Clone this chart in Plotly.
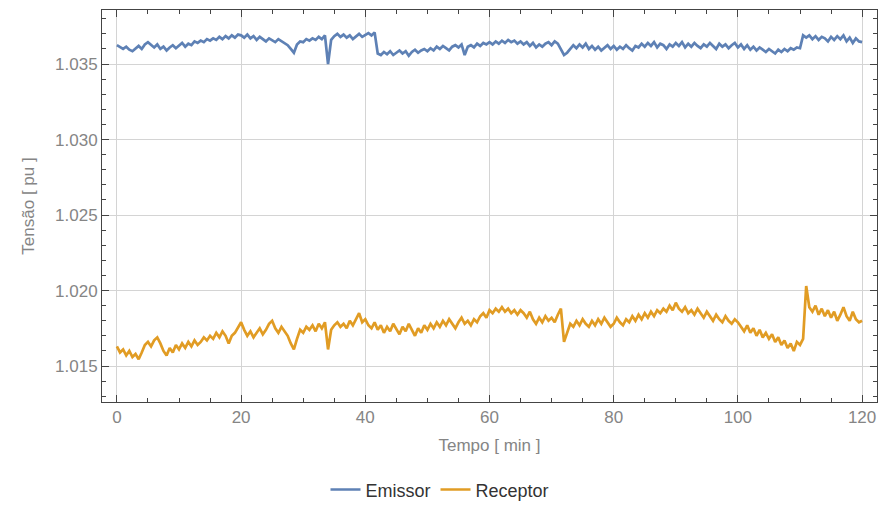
import plotly.graph_objects as go

# time axis, minutes (0.5-min sampling)
tempo = [i * 0.5 for i in range(241)]

emissor = [
    1.03625, 1.03610, 1.03600, 1.03615, 1.03595, 1.03585, 1.03605, 1.03620, 1.03600, 1.03630,
    1.03645, 1.03625, 1.03610, 1.03630, 1.03600, 1.03615, 1.03590, 1.03610, 1.03625, 1.03605,
    1.03620, 1.03640, 1.03615, 1.03635, 1.03625, 1.03650, 1.03640, 1.03655, 1.03645, 1.03665,
    1.03655, 1.03670, 1.03660, 1.03680, 1.03665, 1.03685, 1.03670, 1.03690, 1.03675, 1.03695,
    1.03690, 1.03675, 1.03695, 1.03670, 1.03685, 1.03660, 1.03680, 1.03665, 1.03650, 1.03670,
    1.03660, 1.03645, 1.03665, 1.03650, 1.03640, 1.03625, 1.03600, 1.03575, 1.03630, 1.03650,
    1.03645, 1.03665, 1.03655, 1.03670, 1.03660, 1.03680, 1.03665, 1.03690, 1.03500, 1.03660,
    1.03685, 1.03700, 1.03680, 1.03695, 1.03675, 1.03690, 1.03665, 1.03685, 1.03700, 1.03680,
    1.03695, 1.03705, 1.03690, 1.03710, 1.03570, 1.03560, 1.03580, 1.03565, 1.03585, 1.03560,
    1.03575, 1.03590, 1.03570, 1.03585, 1.03555, 1.03580, 1.03595, 1.03575, 1.03590, 1.03600,
    1.03585, 1.03605, 1.03590, 1.03615, 1.03600, 1.03620, 1.03605, 1.03590, 1.03615, 1.03625,
    1.03610, 1.03630, 1.03560, 1.03615, 1.03625, 1.03610, 1.03635, 1.03620, 1.03640, 1.03630,
    1.03645, 1.03630, 1.03650, 1.03635, 1.03655, 1.03640, 1.03660, 1.03645, 1.03655, 1.03635,
    1.03650, 1.03630, 1.03645, 1.03620, 1.03640, 1.03610, 1.03630, 1.03615, 1.03635, 1.03645,
    1.03625, 1.03650, 1.03635, 1.03600, 1.03560, 1.03575, 1.03600, 1.03625, 1.03605, 1.03630,
    1.03610, 1.03635, 1.03600, 1.03620, 1.03595, 1.03615, 1.03590, 1.03610, 1.03625, 1.03600,
    1.03620, 1.03595, 1.03615, 1.03600, 1.03625, 1.03605, 1.03590, 1.03620, 1.03610, 1.03635,
    1.03615, 1.03640, 1.03620, 1.03645, 1.03610, 1.03635, 1.03625, 1.03600, 1.03630, 1.03615,
    1.03640, 1.03620, 1.03645, 1.03610, 1.03635, 1.03615, 1.03640, 1.03620, 1.03605, 1.03630,
    1.03615, 1.03640, 1.03620, 1.03600, 1.03635, 1.03615, 1.03630, 1.03605, 1.03625, 1.03640,
    1.03610, 1.03630, 1.03600, 1.03625, 1.03595, 1.03615, 1.03590, 1.03610, 1.03595, 1.03580,
    1.03600, 1.03585, 1.03570, 1.03595, 1.03580, 1.03600, 1.03585, 1.03605, 1.03595, 1.03610,
    1.03605, 1.03690, 1.03675, 1.03690, 1.03665, 1.03685, 1.03660, 1.03680, 1.03670, 1.03650,
    1.03680, 1.03660, 1.03685, 1.03665, 1.03690, 1.03650, 1.03675, 1.03640, 1.03670, 1.03650,
    1.03645,
]

receptor = [
    1.01630, 1.01590, 1.01610, 1.01570, 1.01600, 1.01560, 1.01580, 1.01545, 1.01590, 1.01640,
    1.01660, 1.01630, 1.01670, 1.01690, 1.01650, 1.01600, 1.01570, 1.01620, 1.01590, 1.01640,
    1.01610, 1.01650, 1.01620, 1.01660, 1.01630, 1.01670, 1.01640, 1.01660, 1.01690, 1.01670,
    1.01700, 1.01680, 1.01720, 1.01690, 1.01730, 1.01700, 1.01650, 1.01700, 1.01720, 1.01760,
    1.01790, 1.01740, 1.01700, 1.01730, 1.01690, 1.01720, 1.01750, 1.01710, 1.01740, 1.01780,
    1.01800, 1.01750, 1.01720, 1.01760, 1.01730, 1.01700, 1.01650, 1.01610, 1.01680, 1.01740,
    1.01720, 1.01760, 1.01740, 1.01770, 1.01730, 1.01780, 1.01750, 1.01790, 1.01610, 1.01740,
    1.01770, 1.01790, 1.01760, 1.01780, 1.01750, 1.01800, 1.01770, 1.01810, 1.01850, 1.01790,
    1.01810, 1.01770, 1.01750, 1.01790, 1.01740, 1.01770, 1.01720, 1.01760, 1.01730, 1.01780,
    1.01740, 1.01710, 1.01760, 1.01730, 1.01780, 1.01740, 1.01700, 1.01750, 1.01720, 1.01770,
    1.01740, 1.01780, 1.01750, 1.01790, 1.01760, 1.01800, 1.01770, 1.01810, 1.01780, 1.01750,
    1.01790, 1.01820, 1.01780, 1.01800, 1.01770, 1.01810, 1.01790, 1.01830, 1.01850, 1.01820,
    1.01870, 1.01850, 1.01880, 1.01860, 1.01890, 1.01860, 1.01880, 1.01850, 1.01870, 1.01840,
    1.01870, 1.01850, 1.01820, 1.01860, 1.01810, 1.01780, 1.01820, 1.01790, 1.01830, 1.01800,
    1.01820, 1.01790, 1.01840, 1.01880, 1.01660, 1.01720, 1.01780, 1.01760, 1.01800, 1.01770,
    1.01810, 1.01780, 1.01760, 1.01800, 1.01770, 1.01810, 1.01780, 1.01820, 1.01790, 1.01760,
    1.01780, 1.01820, 1.01790, 1.01770, 1.01810, 1.01790, 1.01830, 1.01800, 1.01840, 1.01810,
    1.01850, 1.01820, 1.01860, 1.01830, 1.01870, 1.01850, 1.01880, 1.01860, 1.01900, 1.01870,
    1.01920, 1.01880, 1.01860, 1.01890, 1.01850, 1.01870, 1.01840, 1.01880, 1.01850, 1.01820,
    1.01860, 1.01830, 1.01800, 1.01840, 1.01810, 1.01790, 1.01830, 1.01800, 1.01780, 1.01810,
    1.01790, 1.01760, 1.01730, 1.01770, 1.01720, 1.01750, 1.01700, 1.01740, 1.01690, 1.01720,
    1.01680, 1.01710, 1.01660, 1.01690, 1.01640, 1.01670, 1.01620, 1.01650, 1.01600, 1.01660,
    1.01640, 1.01680, 1.02030, 1.01890, 1.01860, 1.01900, 1.01840, 1.01880, 1.01830, 1.01870,
    1.01820, 1.01860, 1.01800, 1.01840, 1.01890, 1.01830, 1.01800, 1.01860, 1.01810, 1.01790,
    1.01800,
]

x_ticks = [0, 20, 40, 60, 80, 100, 120]
y_ticks = [1.015, 1.020, 1.025, 1.030, 1.035]

font_family = "Liberation Sans, Arial, sans-serif"
gray = "#858585"

fig = go.Figure()
fig.add_trace(go.Scatter(x=tempo, y=emissor, mode="lines", name="Emissor",
                         line=dict(color="#5E81B5", width=2.7)))
fig.add_trace(go.Scatter(x=tempo, y=receptor, mode="lines", name="Receptor",
                         line=dict(color="#E19C24", width=2.7)))

axis_common = dict(
    showline=True, linecolor="#444444", linewidth=1, mirror="ticks",
    ticks="inside", ticklen=7, tickcolor="#444444", tickwidth=1,
    showgrid=True, gridcolor="#d4d4d4", gridwidth=1, zeroline=False,
    tickfont=dict(family=font_family, size=17, color=gray),
)

fig.update_layout(
    width=880, height=506,
    margin=dict(l=102, r=3, t=10, b=104),
    paper_bgcolor="white", plot_bgcolor="white",
    font=dict(family=font_family, color=gray),
    xaxis=dict(
        **axis_common,
        range=[-2.4, 122.4], tickvals=x_ticks,
        minor=dict(dtick=5, tick0=0, ticks="inside", ticklen=4, tickcolor="#444444", showgrid=False),
        title=dict(text="Tempo [ min ]", font=dict(family=font_family, size=17, color=gray), standoff=12),
    ),
    yaxis=dict(
        **axis_common,
        range=[1.01262, 1.03858], tickvals=y_ticks, tickformat=".3f",
        minor=dict(dtick=0.001, tick0=1.015, ticks="inside", ticklen=4, tickcolor="#444444", showgrid=False),
        title=dict(text="Tensão [ pu ]", font=dict(family=font_family, size=17, color=gray), standoff=16),
    ),
    legend=dict(
        orientation="h", xref="container", yref="container",
        x=0.5, xanchor="center", y=0.032, yanchor="middle",
        font=dict(family=font_family, size=18, color="#333333"),
        itemwidth=30,
    ),
)

fig.write_html("out.html")
